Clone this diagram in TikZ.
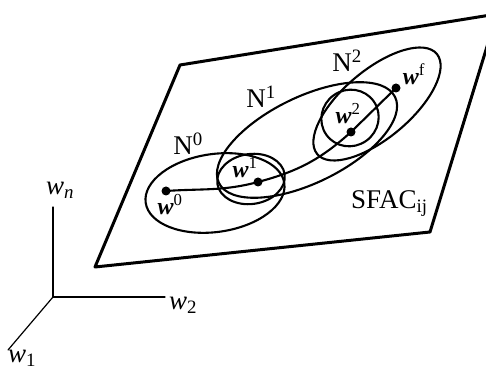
\documentclass[tikz,border=0pt]{standalone}
\usepackage{fontspec}
\setmainfont{Liberation Serif}
\usepackage{tkz-euclide}
\usetikzlibrary{calc}

\tikzset{
  nbhd/.style={line width=2.1pt},
  lbl/.style={anchor=base,inner sep=0pt,font=\fontsize{27}{30}\selectfont},
  ptlbl/.style={anchor=base,inner sep=0pt,font=\fontsize{24}{28}\selectfont\bfseries\itshape},
}

\begin{document}
\begin{tikzpicture}[x=1pt,y=1pt]
\useasboundingbox (0,0) rectangle (486,371);
\clip (0,0) rectangle (486,371);
\tkzSetUpLine[line width=3pt,color=black]

\tkzDefPoints{95/104/P,180/306/Q,497/357/R,430/139/S}
\tkzDefPoints{166/180/W0,258/189/W1,351/239/W2,396/283/Wf}
\tkzDefPoints{53/74/O,53/164/En,165/74/E2,8/21/E1}
% centres of the neighbourhoods
\tkzDefPoints{215/178/C0,251/192/Cw1,307/231/C1,350/253/Cw2,377/267/C2}

\tkzDrawPolygon(P,Q,R,S)

\draw[nbhd] (C0) ellipse [x radius=70pt, y radius=39pt, rotate=8];
\draw[nbhd] (Cw1) ellipse [x radius=34pt, y radius=25pt, rotate=8];
\draw[nbhd] (C1) ellipse [x radius=98pt, y radius=43pt, rotate=26];
\draw[nbhd] (Cw2) ellipse [x radius=29pt, y radius=28pt, rotate=35];
\draw[nbhd] (C2) ellipse [x radius=78pt, y radius=34pt, rotate=40];

\draw[nbhd] (W0) to[out=4,in=195] (W1) to[out=15,in=222] (W2) -- (Wf);
\foreach \p in {W0,W1,W2,Wf} \fill (\p) circle (4.5pt);

\tkzDrawSegments[line width=1.2pt](O,En O,E2 O,E1)

\node[ptlbl] (l0) at (170,156) {w\textsuperscript{\mdseries\upshape 0}};
\node[ptlbl] (l1) at (245,193) {w\textsuperscript{\mdseries\upshape 1}};
\node[ptlbl] (l2) at (348,247) {w\textsuperscript{\mdseries\upshape 2}};
\node[ptlbl] (lf) at (414,286) {w\textsuperscript{\mdseries\upshape f}};

\node[lbl] (n0) at (188,216) {N\textsuperscript{0}};
\node[lbl] (n1) at (261,263) {N\textsuperscript{1}};
\node[lbl] (n2) at (347,299) {N\textsuperscript{2}};
\node[lbl,anchor=base west] (sfac) at (351,162) {SFAC\textsubscript{ij}};

\node[lbl] (an) at (60,176) {\textit{w}\textsubscript{\textit{n}}};
\node[lbl] (a2) at (183,61) {\textit{w}\textsubscript{2}};
\node[lbl] (a1) at (22,8) {\textit{w}\textsubscript{1}};
\end{tikzpicture}
\end{document}
